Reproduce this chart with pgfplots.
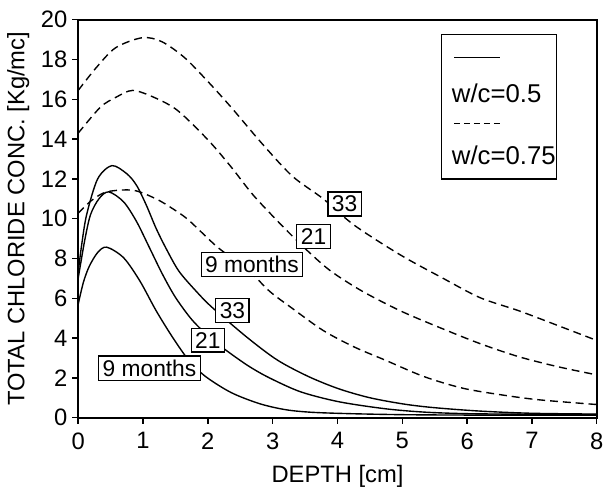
\documentclass[border=0pt]{standalone}
\usepackage{fontspec}
\setmainfont{Liberation Sans}
\usepackage{pgfplots}
\pgfplotsset{compat=1.18}
\begin{document}
\begin{tikzpicture}
\begin{axis}[
  scale only axis, width=262pt, height=201pt,
  xmin=0, xmax=8, ymin=0, ymax=20,
  xtick={0,...,8}, ytick={0,2,...,20},
  tick align=outside, tick pos=left,
  major tick length=3pt,
  axis line style={line width=0.9pt},
  every tick/.style={black, line width=0.7pt},
  /pgf/number format/assume math mode=true,
  ticklabel style={font=\fontsize{12}{14}\selectfont},
  xticklabel style={yshift=-1pt},
  yticklabel style={xshift=1pt},
  xlabel={DEPTH [cm]}, ylabel={TOTAL CHLORIDE CONC. [Kg/mc]},
  label style={font=\fontsize{12}{14}\selectfont},
  xlabel style={yshift=-1pt}, ylabel style={yshift=-1pt},
  clip=true,
]
% w/c = 0.5, 9 months
\addplot[black, line width=0.7pt, smooth] coordinates {(0,5.7)(0.08,6.8)(0.17,7.6)(0.3,8.3)(0.44,8.57)(0.7,8.04)(0.95,6.88)(1.2,5.39)(1.45,4.07)(1.7,2.91)(1.96,2.08)(2.36,1.26)(2.8,0.7)(3.2,0.4)(3.6,0.27)(4.2,0.2)(5,0.15)(6,0.13)(8,0.12)};
% w/c = 0.5, 21 months
\addplot[black, line width=0.7pt, smooth] coordinates {(0,7.0)(0.1,8.9)(0.19,10.2)(0.32,11.0)(0.47,11.35)(0.7,10.85)(0.9,9.86)(1.1,8.54)(1.3,7.21)(1.5,6.05)(1.76,4.9)(2.06,3.95)(2.36,3.2)(2.65,2.55)(2.95,2.0)(3.43,1.3)(4.02,0.8)(4.73,0.45)(5.33,0.28)(6,0.2)(7,0.17)(8,0.15)};
% w/c = 0.5, 33 months
\addplot[black, line width=0.7pt, smooth] coordinates {(0,7.3)(0.05,8.6)(0.13,10.2)(0.3,12.0)(0.52,12.67)(0.75,12.26)(0.9,11.68)(1.05,10.69)(1.2,9.53)(1.35,8.54)(1.55,7.38)(1.81,6.39)(2.06,5.56)(2.6,4.05)(3.07,2.9)(3.55,2.07)(4.02,1.45)(4.5,1.0)(5.03,0.68)(5.5,0.5)(6.2,0.33)(7,0.22)(8,0.18)};
% w/c = 0.75, 9 months
\addplot[black, line width=0.7pt, smooth, dash pattern=on 4pt off 2.5pt] coordinates {(0,10.27)(0.2,10.9)(0.44,11.35)(0.85,11.43)(1.2,11.0)(1.45,10.52)(1.7,9.94)(2.16,8.54)(2.6,7.5)(2.95,6.36)(3.3,5.5)(3.78,4.38)(4.26,3.55)(4.73,2.9)(5.33,2.07)(5.92,1.49)(6.5,1.16)(7.1,0.9)(8,0.66)};
% w/c = 0.75, 21 months
\addplot[black, line width=0.7pt, smooth, dash pattern=on 4pt off 2.5pt] coordinates {(0,14.3)(0.34,15.6)(0.58,16.1)(0.84,16.45)(1.17,16.1)(1.53,15.45)(2.0,13.97)(2.36,12.6)(2.71,11.15)(3.19,9.5)(3.55,8.35)(3.9,7.36)(4.38,6.36)(4.97,5.37)(5.56,4.55)(6.2,3.72)(6.8,3.06)(7.4,2.56)(8,2.15)};
% w/c = 0.75, 33 months
\addplot[black, line width=0.7pt, smooth, dash pattern=on 4pt off 2.5pt] coordinates {(0,16.45)(0.28,17.6)(0.58,18.6)(0.99,19.1)(1.29,18.9)(1.64,18.1)(2.0,16.9)(2.36,15.6)(2.83,13.8)(3.3,12.15)(3.78,11.0)(4.26,9.67)(4.97,8.18)(5.62,7.02)(6.2,6.03)(6.8,5.37)(7.4,4.63)(8,3.88)};
% curve labels
\begin{scope}[every node/.style={draw, fill=white, line width=0.6pt, inner sep=2pt, font=\fontsize{11.5}{13}\selectfont}]
\node at (axis cs:4.11,10.74) {33};
\node at (axis cs:3.63,9.1) {21};
\node at (axis cs:2.68,7.7) {9 months};
\node at (axis cs:2.38,5.37) {33};
\node at (axis cs:2.0,3.9) {21};
\node at (axis cs:1.10,2.48) {9 months};
\end{scope}
% legend
\draw[fill=white, line width=0.7pt] (axis cs:5.6,19.25) rectangle (axis cs:7.38,12.0);
\draw[line width=0.7pt] (axis cs:5.8,18.1) -- (axis cs:6.5,18.1);
\node[anchor=west, inner sep=0pt, font=\fontsize{13}{15}\selectfont] at (axis cs:5.76,16.3) {w/c=0.5};
\draw[line width=0.7pt, dash pattern=on 3pt off 2pt] (axis cs:5.8,14.8) -- (axis cs:6.5,14.8);
\node[anchor=west, inner sep=0pt, font=\fontsize{13}{15}\selectfont] at (axis cs:5.76,13.2) {w/c=0.75};
\end{axis}
\path (-39.5pt,-29pt) rectangle (265.5pt,211pt);
\end{tikzpicture}
\end{document}
